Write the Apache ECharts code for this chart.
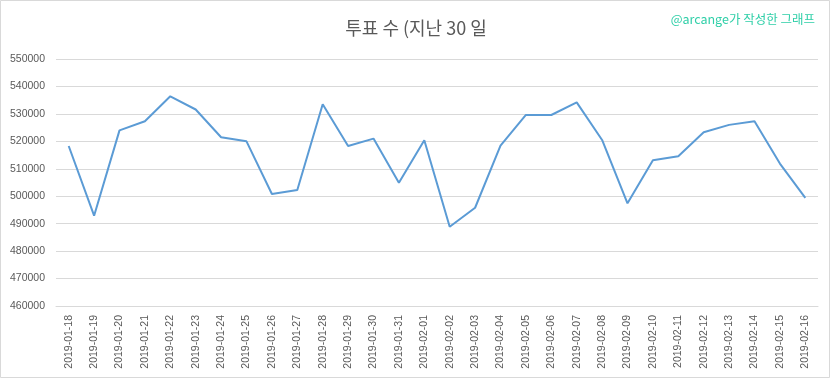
<!DOCTYPE html>
<html><head><meta charset="utf-8">
<script src="https://cdn.jsdelivr.net/npm/echarts@6/dist/echarts.min.js"></script>
<style>html,body{margin:0;padding:0;background:#fff}#c{width:832px;height:379px}</style>
</head><body><div id="c"></div>
<script>
const categories = ["2019-01-18","2019-01-19","2019-01-20","2019-01-21","2019-01-22","2019-01-23","2019-01-24","2019-01-25","2019-01-26","2019-01-27","2019-01-28","2019-01-29","2019-01-30","2019-01-31","2019-02-01","2019-02-02","2019-02-03","2019-02-04","2019-02-05","2019-02-06","2019-02-07","2019-02-08","2019-02-09","2019-02-10","2019-02-11","2019-02-12","2019-02-13","2019-02-14","2019-02-15","2019-02-16"];
const votes = [518300,492900,524000,527300,536400,531600,521500,520000,500800,502300,533500,518300,521000,504900,520400,488900,495800,518400,529600,529600,534200,520500,497400,513100,514600,523300,526000,527300,511900,499400];
const titleText = "투표 수 (지난 30 일";
const creditText = "@arcange가 작성한 그래프";

const chart = echarts.init(document.getElementById('c'));
chart.setOption({
  animation: false,
  backgroundColor: '#fff',
  title: [{
    text: titleText, left: 'center', top: 14,
    textStyle: {fontFamily: 'Noto Sans CJK KR', fontSize: 18, fontWeight: 'normal', color: '#595959'}
  },{
    text: creditText, right: 12, top: 8,
    textStyle: {fontFamily: 'Noto Sans CJK KR', fontSize: 12.5, fontWeight: 'normal', color: '#2fcfa8'}
  }],
  graphic: [{type: 'rect', shape: {x: 0.5, y: 0.5, width: 829, height: 377}, style: {fill: 'none', stroke: '#d9d9d9', lineWidth: 1}, silent: true}],
  grid: {left: 56, right: 14, top: 59, bottom: 73},
  xAxis: {
    type: 'category', data: categories, boundaryGap: true,
    axisLine: {lineStyle: {color: '#d9d9d9'}}, axisTick: {show: false},
    axisLabel: {rotate: 90, fontSize: 10.5, color: '#595959', fontFamily: 'Liberation Sans', margin: 9, interval: 0}
  },
  yAxis: {
    type: 'value', min: 460000, max: 550000, interval: 10000,
    axisLine: {show: false}, axisTick: {show: false},
    splitLine: {lineStyle: {color: '#d9d9d9'}},
    axisLabel: {fontSize: 10.5, color: '#595959', fontFamily: 'Liberation Sans', margin: 11, formatter: v => String(v)}
  },
  series: [{
    type: 'line', data: votes, showSymbol: false, symbol: 'none',
    lineStyle: {color: '#5b9bd5', width: 2}
  }]
});
</script></body></html>
